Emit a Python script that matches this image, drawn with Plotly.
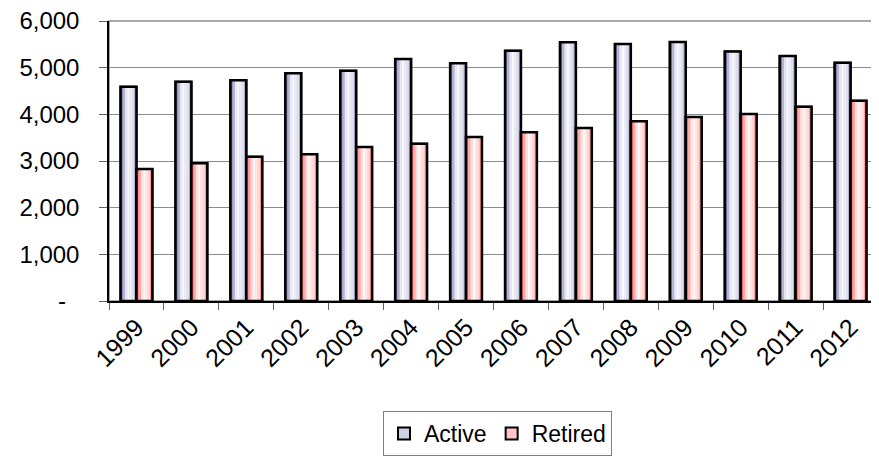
import plotly.graph_objects as go

years = ["1999", "2000", "2001", "2002", "2003", "2004", "2005",
         "2006", "2007", "2008", "2009", "2010", "2011", "2012"]
active = [4590, 4700, 4730, 4880, 4935, 5185, 5095, 5365, 5545, 5505, 5550, 5345, 5250, 5105]
retired = [2830, 2950, 3090, 3145, 3300, 3370, 3515, 3615, 3705, 3850, 3945, 4005, 4165, 4290]
y_tickvals = [0, 1000, 2000, 3000, 4000, 5000, 6000]
y_ticktext = ["-\u00a0\u00a0", "1,000", "2,000", "3,000", "4,000", "5,000", "6,000"]

FONT = "Liberation Sans, Arial, sans-serif"
BAR_W = 0.29
N_STRIPES = 7

active_stops = [(0.0, (0x4c, 0x4c, 0x7c)), (0.18, (0xa6, 0xa6, 0xcc)), (0.42, (0xff, 0xff, 0xff)),
                (0.8, (0xde, 0xde, 0xec)), (1.0, (0x8a, 0x8a, 0xb0))]
retired_stops = [(0.0, (0xff, 0x38, 0x38)), (0.18, (0xff, 0x9c, 0x9c)), (0.45, (0xff, 0xff, 0xff)),
                 (0.8, (0xff, 0xd4, 0xd4)), (1.0, (0xff, 0x6c, 0x6c))]


def grad_color(stops, t):
    for (t0, c0), (t1, c1) in zip(stops[:-1], stops[1:]):
        if t0 <= t <= t1:
            f = (t - t0) / (t1 - t0) if t1 > t0 else 0
            c = [round(a + (b - a) * f) for a, b in zip(c0, c1)]
            return "rgb(%d,%d,%d)" % tuple(c)
    return "rgb(%d,%d,%d)" % stops[-1][1]


fig = go.Figure()


def add_series(name, values, offset, stops, legend_color):
    # base bar (legend entry)
    fig.add_trace(go.Bar(x=years, y=values, name=name, offset=offset, width=BAR_W,
                         marker=dict(color=legend_color, line=dict(color="black", width=2)),
                         showlegend=True))
    sw = BAR_W / N_STRIPES
    for i in range(N_STRIPES):
        t = (i + 0.5) / N_STRIPES
        fig.add_trace(go.Bar(x=years, y=values, offset=offset + i * sw, width=sw,
                             marker=dict(color=grad_color(stops, t), line=dict(width=0)),
                             showlegend=False, hoverinfo="skip"))
    fig.add_trace(go.Bar(x=years, y=values, offset=offset, width=BAR_W,
                         marker=dict(color="rgba(0,0,0,0)", line=dict(color="black", width=2.5)),
                         showlegend=False, name=name))


add_series("Active", active, -BAR_W, active_stops, "#cfcfe4")
add_series("Retired", retired, 0.0, retired_stops, "#ffc4c4")

# page body has an 8px margin: size the figure to fit inside the window
fig.update_layout(
    width=871, height=448,
    margin=dict(l=101, r=1, t=13, b=155, autoexpand=False),
    paper_bgcolor="white", plot_bgcolor="white",
    barmode="overlay",
    font=dict(family=FONT, size=23, color="black"),
    showlegend=True,
    legend=dict(orientation="h", x=(383 - 109) / 769, xanchor="left",
                y=(301 - 411) / 280, yanchor="top",
                bordercolor="#808080", borderwidth=1, font=dict(size=23),
                itemwidth=30, tracegroupgap=0),
)
fig.update_xaxes(type="category", categoryorder="array", categoryarray=years,
                 tickangle=-45, ticks="outside", tickson="boundaries", ticklen=7,
                 tickcolor="#606060", showline=True, linecolor="black", linewidth=1.5,
                 mirror=False, showgrid=False, range=[-0.5, 13.5], automargin=False,
                 ticklabeloverflow="allow", tickfont=dict(size=25))
fig.update_yaxes(range=[0, 6000], tickvals=y_tickvals, ticktext=y_ticktext,
                 ticks="outside", ticklen=8, tickcolor="#606060",
                 showline=True, linecolor="black", linewidth=1.5, automargin=False,
                 showgrid=True, gridcolor="#8c8c8c", gridwidth=1,
                 ticklabeloverflow="allow",
                 ticklabelstandoff=15, tickfont=dict(size=24), zeroline=False)
# plot area border (top/right) in gray
fig.add_shape(type="rect", xref="paper", yref="paper", x0=0, x1=1, y0=0, y1=1,
              line=dict(color="#8c8c8c", width=1.5), layer="below")

fig.write_html("out.html")
